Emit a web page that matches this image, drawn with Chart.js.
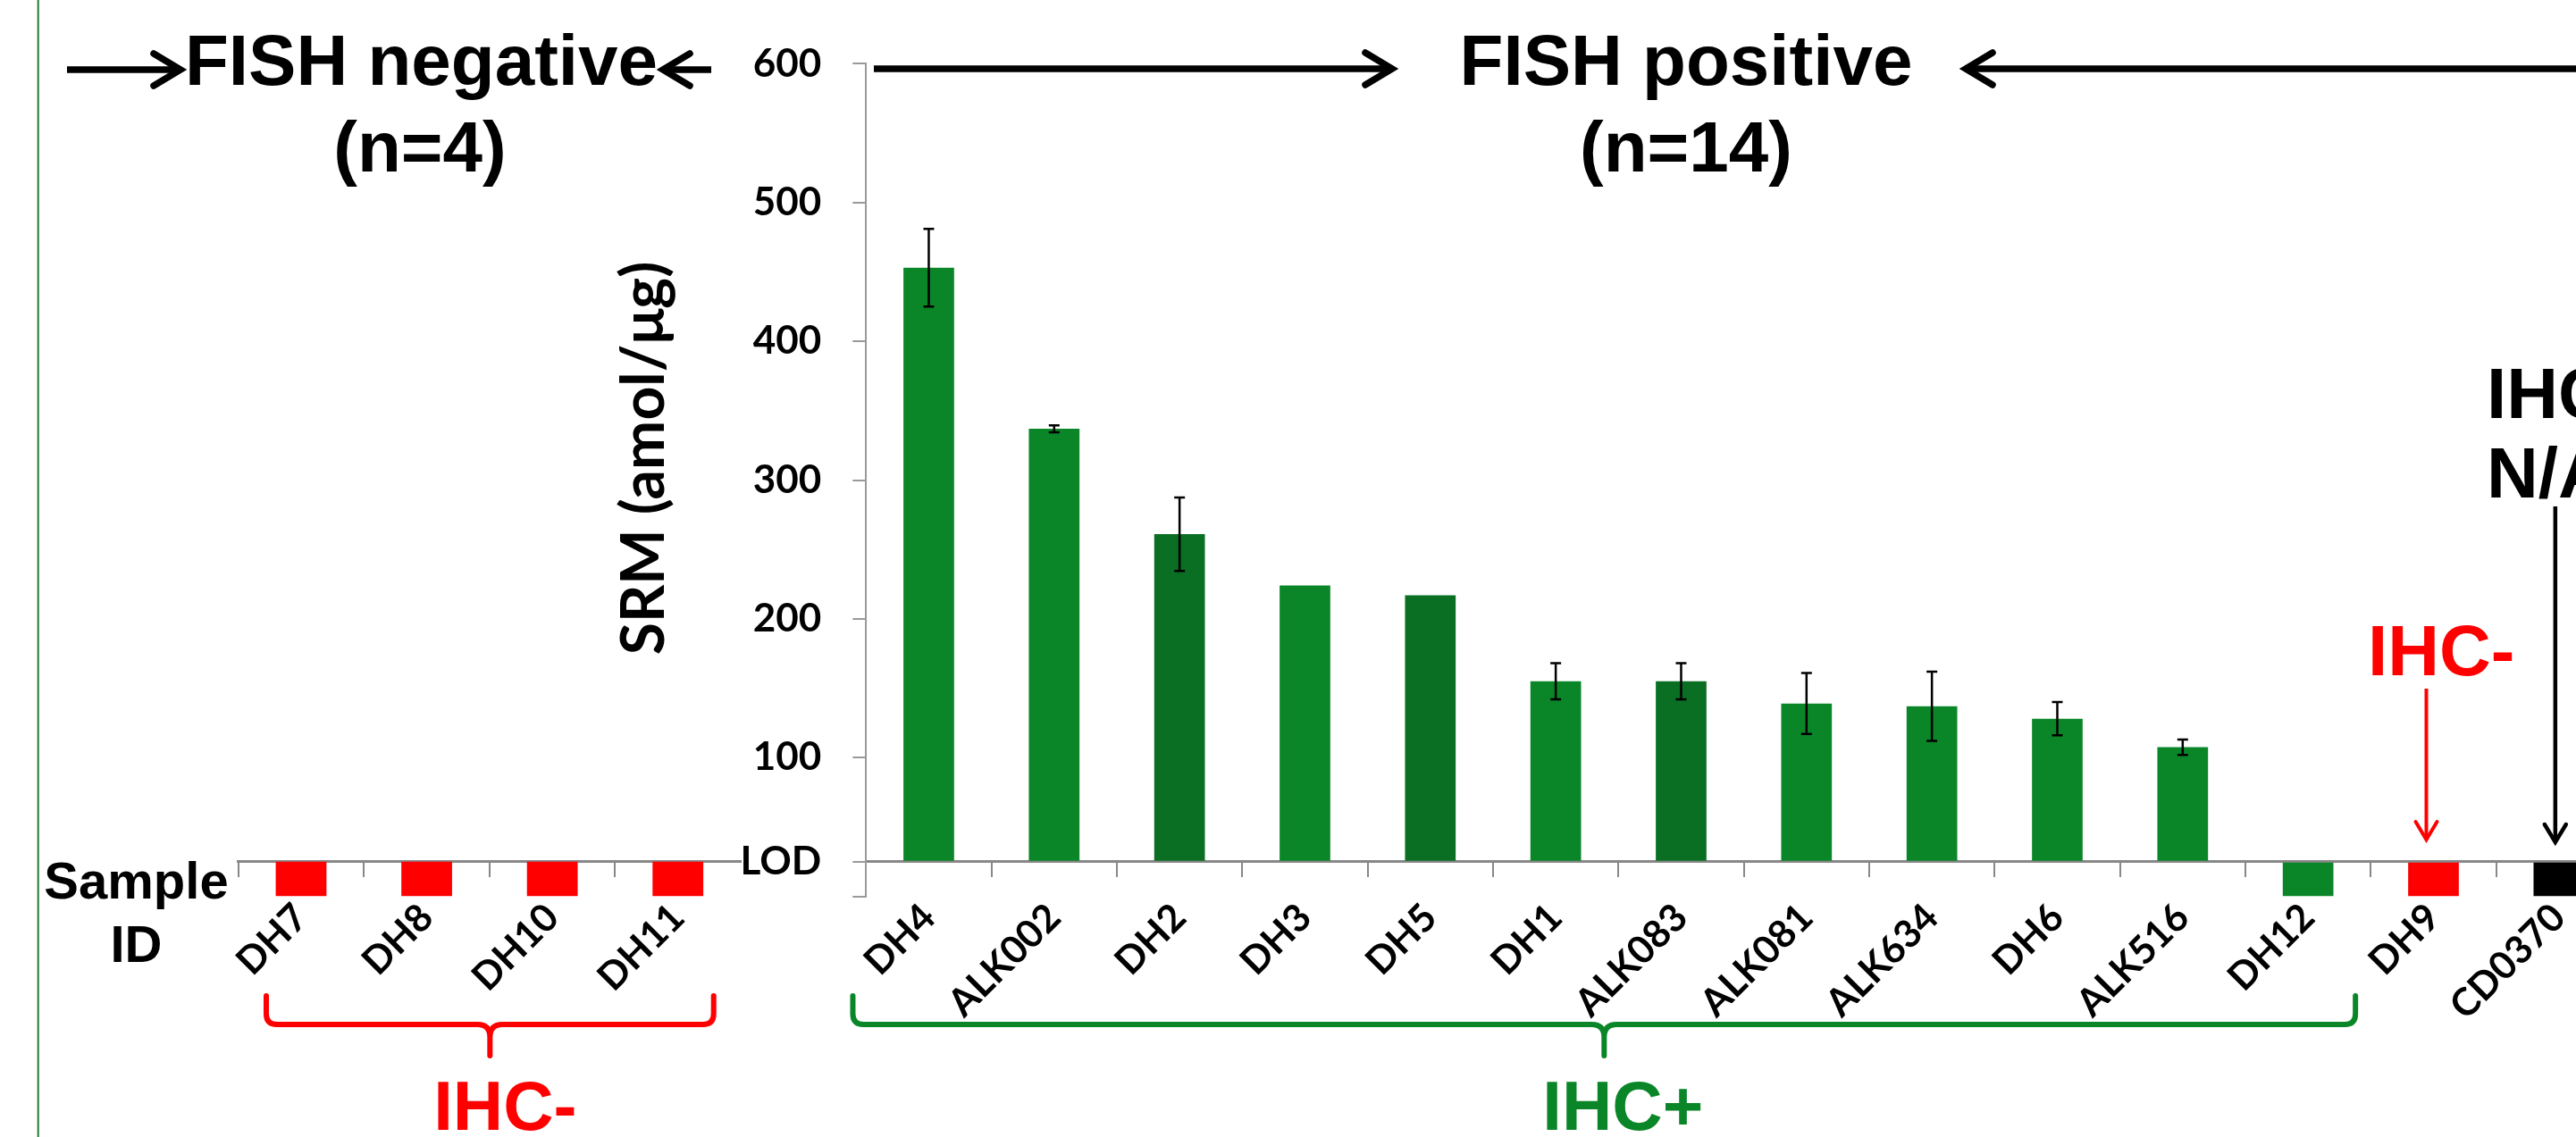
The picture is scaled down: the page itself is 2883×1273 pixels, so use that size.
<!DOCTYPE html>
<html>
<head>
<meta charset="utf-8">
<script src="https://cdn.jsdelivr.net/npm/chart.js@4.4.1/dist/chart.umd.min.js"></script>
<style>
  html, body { margin: 0; padding: 0; background: #fff; overflow: hidden; }
  #wrap { position: relative; width: 2883px; height: 1273px; overflow: hidden; }
  canvas { position: absolute; left: 0; top: 0; }
</style>
</head>
<body>
<div id="wrap">
  <canvas id="main" width="2934" height="1273"></canvas>
  <canvas id="neg" width="900" height="1273"></canvas>
</div>
<script>
// limit of detection, where the category axis crosses
const LOD = 25;
const yTicks = [0, LOD, 100, 200, 300, 400, 500, 600];

// FISH negative samples
const negSamples = ['DH7', 'DH8', 'DH10', 'DH11'];
const negValues = [0, 0, 0, 0];
const negGroup = ['neg', 'neg', 'neg', 'neg'];

// FISH positive samples
const posSamples = ['DH4', 'ALK002', 'DH2', 'DH3', 'DH5', 'DH1', 'ALK083', 'ALK081', 'ALK634', 'DH6', 'ALK516', 'DH12', 'DH9', 'CD0370'];
const posValues = [453, 337, 261, 224, 217, 155, 155, 139, 137, 128, 107.5, 0, 0, 0];
const posErrors = [28, 2.5, 26.5, 0, 0, 13, 13, 22, 25, 12, 5.5, 0, 0, 0];
const posGroup = ['pos', 'pos', 'posDark', 'pos', 'posDark', 'pos', 'posDark', 'pos', 'pos', 'pos', 'pos', 'pos', 'neg', 'na'];

const GREEN = '#0a8628';
const TONE = { pos: GREEN, posDark: '#0a6e23', neg: '#ff0000', na: '#000000' };
const ARIAL = '"Liberation Sans", Arial, sans-serif';
const PLOT_TOP = 71.4, PLOT_BOTTOM = 1003.6, H = 1273;

Chart.defaults.font.family = 'Lato';

function arrow(ctx, x1, y1, x2, y2, lw, hl, hw, color) {
  const len = Math.hypot(x2 - x1, y2 - y1);
  const ux = (x2 - x1) / len, uy = (y2 - y1) / len;
  ctx.save();
  ctx.strokeStyle = color;
  ctx.lineWidth = lw;
  ctx.lineCap = 'butt';
  ctx.beginPath();
  ctx.moveTo(x1, y1);
  ctx.lineTo(x2 - ux * lw * 0.5, y2 - uy * lw * 0.5);
  ctx.stroke();
  ctx.lineCap = 'round';
  ctx.lineJoin = 'miter';
  ctx.beginPath();
  ctx.moveTo(x2 - ux * hl - uy * hw, y2 - uy * hl + ux * hw);
  ctx.lineTo(x2, y2);
  ctx.lineTo(x2 - ux * hl + uy * hw, y2 - uy * hl - ux * hw);
  ctx.stroke();
  ctx.restore();
}

function brace(ctx, x0, x1, yTop, yMid, yNub, color) {
  const xc = (x0 + x1) / 2, r = 12, rn = 14;
  ctx.save();
  ctx.strokeStyle = color;
  ctx.lineWidth = 6;
  ctx.lineCap = 'round';
  ctx.beginPath();
  ctx.moveTo(x0, yTop);
  ctx.lineTo(x0, yMid - r);
  ctx.quadraticCurveTo(x0, yMid, x0 + r, yMid);
  ctx.lineTo(xc - rn, yMid);
  ctx.quadraticCurveTo(xc, yMid, xc, yMid + rn);
  ctx.lineTo(xc, yNub);
  ctx.moveTo(x1, yTop);
  ctx.lineTo(x1, yMid - r);
  ctx.quadraticCurveTo(x1, yMid, x1 - r, yMid);
  ctx.lineTo(xc + rn, yMid);
  ctx.quadraticCurveTo(xc, yMid, xc, yMid + rn);
  ctx.stroke();
  ctx.restore();
}

function text(ctx, str, x, y, size, color, align) {
  ctx.save();
  ctx.font = 'bold ' + size + 'px ' + ARIAL;
  ctx.fillStyle = color;
  ctx.textAlign = align || 'center';
  ctx.textBaseline = 'alphabetic';
  ctx.fillText(str, x, y);
  ctx.restore();
}

function xAxis(hideLast) {
  return {
    position: { y: LOD },
    offset: true,
    grid: {
      offset: true,
      drawOnChartArea: false,
      tickLength: 16,
      lineWidth: 2,
      color: '#888',
      tickColor: (c) => (hideLast && c.type !== 'tick' ? 'rgba(0,0,0,0)' : '#888'),
    },
    border: { color: '#888', width: 3 },
    ticks: {
      autoSkip: false,
      minRotation: 45,
      maxRotation: 45,
      padding: 21,
      color: '#000',
      font: { family: 'Lato', weight: 'bold', size: 43 },
    },
  };
}

const errorBars = {
  id: 'errorBars',
  afterDatasetsDraw(chart) {
    const ctx = chart.ctx, y = chart.scales.y;
    const bars = chart.getDatasetMeta(0).data;
    ctx.save();
    ctx.strokeStyle = '#000';
    ctx.lineWidth = 2.5;
    bars.forEach((bar, i) => {
      const e = posErrors[i];
      if (!e) return;
      const top = y.getPixelForValue(posValues[i] + e);
      const bot = y.getPixelForValue(posValues[i] - e);
      ctx.beginPath();
      ctx.moveTo(bar.x, top); ctx.lineTo(bar.x, bot);
      ctx.moveTo(bar.x - 6, top); ctx.lineTo(bar.x + 6, top);
      ctx.moveTo(bar.x - 6, bot); ctx.lineTo(bar.x + 6, bot);
      ctx.stroke();
    });
    ctx.restore();
  },
};

const mainDecor = {
  id: 'mainDecor',
  afterDraw(chart) {
    const ctx = chart.ctx, xs = chart.scales.x;

    // y axis title
    ctx.save();
    ctx.translate(722, 513);
    ctx.rotate(-Math.PI / 2);
    ctx.font = 'bold 66px Lato';
    ctx.fillStyle = '#000';
    ctx.textAlign = 'center';
    ctx.textBaseline = 'middle';
    ctx.fillText('SRM (amol/\u03bcg)', 0, 0);
    ctx.restore();

    // FISH positive header
    text(ctx, 'FISH positive', 1887, 95, 80, '#000');
    text(ctx, '(n=14)', 1887, 192, 80, '#000');
    arrow(ctx, 978, 77, 1558, 77, 7.5, 30, 18, '#000');
    arrow(ctx, 2950, 77, 2200, 77, 7.5, 30, 18, '#000');

    // IHC- and IHC N/A call-outs
    const x9 = xs.getPixelForValue(12) - 8;
    text(ctx, 'IHC-', 2650, 756, 80, '#ff0000', 'left');
    arrow(ctx, x9, 771, x9, 940, 4, 20, 12, '#ff0000');
    const x10 = xs.getPixelForValue(13) - 4;
    text(ctx, 'IHC', 2783, 468, 80, '#000', 'left');
    text(ctx, 'N/A', 2783, 557, 80, '#000', 'left');
    arrow(ctx, x10, 567, x10, 943, 4.5, 20, 12, '#000');

    // IHC+ brace
    const b0 = xs.getPixelForValue(0) - 85;
    const b1 = xs.getPixelForValue(11) + 53;
    brace(ctx, b0, b1, 1115, 1147, 1182, GREEN);
    text(ctx, 'IHC+', (b0 + b1) / 2 + 21, 1265, 78, GREEN);
  },
};

const negDecor = {
  id: 'negDecor',
  afterDraw(chart) {
    const ctx = chart.ctx, xs = chart.scales.x;

    ctx.save();
    ctx.strokeStyle = '#1f7a34';
    ctx.lineWidth = 2;
    ctx.beginPath();
    ctx.moveTo(42.7, 0); ctx.lineTo(42.7, 1273);
    ctx.stroke();
    ctx.restore();

    arrow(ctx, 75, 78, 202, 78, 7.5, 30, 18, '#000');
    text(ctx, 'FISH negative', 471.5, 95, 80, '#000');
    arrow(ctx, 796, 78, 742, 78, 7.5, 30, 18, '#000');
    text(ctx, '(n=4)', 470, 192, 80, '#000');

    text(ctx, 'Sample', 152.5, 1006, 58, '#000');
    text(ctx, 'ID', 152.5, 1077, 58, '#000');

    const b0 = xs.getPixelForValue(0) - 39;
    const b1 = xs.getPixelForValue(negSamples.length - 1) + 40;
    brace(ctx, b0, b1, 1115, 1147, 1182, '#ff0000');
    text(ctx, 'IHC-', (b0 + b1) / 2 + 17, 1265, 78, '#ff0000');
  },
};

new Chart(document.getElementById('main'), {
  type: 'bar',
  data: {
    labels: posSamples,
    datasets: [{
      data: posValues,
      base: LOD,
      backgroundColor: posGroup.map((g) => TONE[g]),
      barPercentage: 0.404,
      categoryPercentage: 1,
    }],
  },
  options: {
    responsive: false,
    animation: false,
    layout: { padding: { left: 0, right: 0, top: PLOT_TOP, bottom: H - PLOT_BOTTOM } },
    plugins: { legend: { display: false }, tooltip: { enabled: false } },
    scales: {
      x: xAxis(false),
      y: {
        min: 0,
        max: 600,
        afterBuildTicks: (s) => { s.ticks = yTicks.map((v) => ({ value: v })); },
        grid: { drawOnChartArea: false, tickLength: 15, lineWidth: 2, color: '#999' },
        border: { color: '#999', width: 2 },
        ticks: {
          padding: 35,
          color: '#000',
          font: { family: 'Lato', weight: 'bold', size: 44 },
          callback: (v) => (v === 0 ? '' : v === LOD ? 'LOD' : v),
        },
        afterFit: (s) => { s.width = 969.3; },
      },
    },
  },
  plugins: [errorBars, mainDecor],
});

new Chart(document.getElementById('neg'), {
  type: 'bar',
  data: {
    labels: negSamples,
    datasets: [{
      data: negValues,
      base: LOD,
      backgroundColor: negGroup.map((g) => TONE[g]),
      barPercentage: 0.404,
      categoryPercentage: 1,
    }],
  },
  options: {
    responsive: false,
    animation: false,
    layout: { padding: { left: 266.7, right: 900 - 829, top: PLOT_TOP, bottom: H - PLOT_BOTTOM } },
    plugins: { legend: { display: false }, tooltip: { enabled: false } },
    scales: {
      x: xAxis(true),
      y: { display: false, min: 0, max: 600 },
    },
  },
  plugins: [negDecor],
});
</script>
</body>
</html>
